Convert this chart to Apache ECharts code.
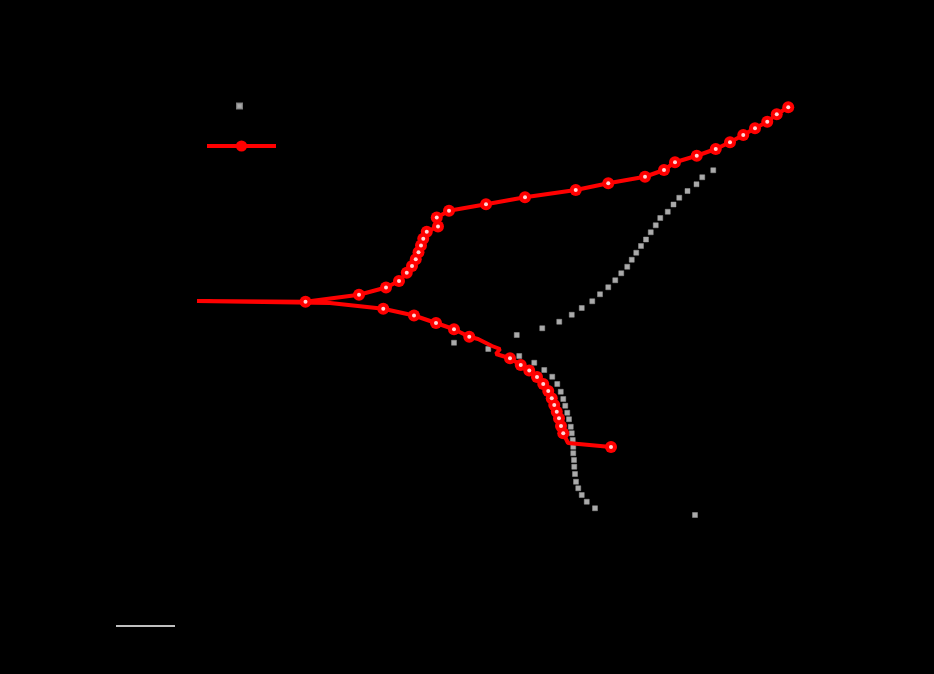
<!DOCTYPE html>
<html>
<head>
<meta charset="utf-8">
<script src="https://cdn.jsdelivr.net/npm/echarts@6/dist/echarts.min.js"></script>
<style>html,body{margin:0;padding:0;background:#000;}#c{width:934px;height:674px;}</style>
</head>
<body>
<div id="c"></div>
<script>
// Experimental (gray scatter): log i vs E
const grayX = [-4.040,-4.106,-4.146,-4.174,-4.192,-4.200,-4.206,-4.208,-4.214,-4.214,-4.218,-4.226,-4.234,-4.248,-4.262,-4.278,-4.294,-4.314,-4.342,-4.382,-4.446,-4.526,-4.646,-4.894,-5.168,
  -4.666,-4.462,-4.326,-4.226,-4.146,-4.062,-4.000,-3.934,-3.878,-3.830,-3.782,-3.746,-3.710,-3.672,-3.632,-3.594,-3.554,-3.518,-3.458,-3.412,-3.366,-3.300,-3.228,-3.182,-3.094,
  -3.240];
const grayY = [-1.333,-1.307,-1.280,-1.253,-1.227,-1.196,-1.167,-1.140,-1.113,-1.087,-1.060,-1.033,-1.007,-0.977,-0.951,-0.923,-0.896,-0.867,-0.836,-0.807,-0.780,-0.751,-0.724,-0.696,-0.671,
  -0.640,-0.613,-0.587,-0.559,-0.532,-0.505,-0.477,-0.449,-0.421,-0.393,-0.367,-0.339,-0.311,-0.284,-0.258,-0.229,-0.201,-0.172,-0.147,-0.118,-0.091,-0.064,-0.037,-0.009,0.019,
  -1.360];
// Fit (red line)
const redX = [-3.912,-4.256,-4.294,-4.312,-4.328,-4.346,-4.366,-4.386,-4.414,-4.454,-4.504,-4.566,-4.634,-4.720,-4.832,-4.800,-4.864,-4.976,-5.046,-5.168,-5.312,-5.488,-5.734,-6.160,-7.224,
  -6.356,-5.928,-5.712,-5.608,-5.546,-5.504,-5.474,-5.452,-5.432,-5.414,-5.386,-5.296,-5.306,-5.208,-4.912,-4.600,-4.194,-3.934,-3.640,-3.488,-3.400,-3.226,-3.074,-2.960,-2.854,-2.760,-2.662,-2.586,-2.494];
const redY = [-1.088,-1.072,-1.033,-1.004,-0.973,-0.947,-0.920,-0.893,-0.864,-0.836,-0.808,-0.782,-0.760,-0.733,-0.716,-0.696,-0.684,-0.656,-0.647,-0.617,-0.592,-0.562,-0.535,-0.512,-0.504,
  -0.507,-0.479,-0.450,-0.424,-0.391,-0.364,-0.337,-0.309,-0.282,-0.255,-0.227,-0.206,-0.170,-0.143,-0.117,-0.089,-0.060,-0.033,-0.007,0.020,0.051,0.077,0.104,0.131,0.160,0.187,0.213,0.243,0.271];
const redUnmarked = [1, 14, 15, 16, 17, 23, 24];

const xTicks = {min: -8, max: -2, interval: 1};
const yTicks = {min: -1.5, max: 0.5, interval: 0.5};

const grayData = grayX.map((x, i) => [x, grayY[i]]);
const redData = redX.map((x, i) => [x, redY[i]]);
const redMarked = redData.filter((p, i) => redUnmarked.indexOf(i) < 0);

const chart = echarts.init(document.getElementById('c'), null, {renderer: 'canvas'});
chart.setOption({
  backgroundColor: '#000',
  animation: false,
  grid: {left: 100, right: 84, top: 50, bottom: 124},
  xAxis: {type: 'value', min: xTicks.min, max: xTicks.max, interval: xTicks.interval,
    name: 'log i (A/cm²)', nameLocation: 'middle', nameGap: 30,
    nameTextStyle: {color: '#000', fontSize: 14},
    axisLine: {lineStyle: {color: '#000'}}, axisTick: {lineStyle: {color: '#000'}},
    axisLabel: {color: '#000'}, splitLine: {show: false}},
  yAxis: {type: 'value', min: yTicks.min, max: yTicks.max, interval: yTicks.interval,
    name: 'E (V)', nameLocation: 'middle', nameGap: 40,
    nameTextStyle: {color: '#000', fontSize: 14},
    axisLine: {show: true, lineStyle: {color: '#000'}}, axisTick: {show: true, lineStyle: {color: '#000'}},
    axisLabel: {color: '#000'}, splitLine: {show: false}},
  legend: [
    {data: ['Experimental'], orient: 'vertical', left: 231, top: 95, itemWidth: 5, itemHeight: 5,
      textStyle: {color: '#000'}},
    {data: ['Fit'], orient: 'vertical', left: 200, top: 135, itemWidth: 69, itemHeight: 14,
      lineStyle: {width: 4, color: '#ff0000'},
      textStyle: {color: '#000'}}
  ],
  graphic: [{type: 'line', shape: {x1: 116, y1: 626, x2: 175, y2: 626}, style: {stroke: '#fff', lineWidth: 1.3}}],
  series: [
    {name: 'Experimental', type: 'scatter', data: grayData, symbol: 'rect', symbolSize: 5,
      itemStyle: {color: '#d4d4d4', borderColor: '#9a9a9a', borderWidth: 0.6}, z: 2},
    {name: 'Fit', type: 'line', data: redData, symbol: 'circle', symbolSize: 12, showSymbol: false,
      lineStyle: {color: '#ff0000', width: 4}, itemStyle: {color: '#ff0000'}, z: 3},
    {name: 'FitMarkers', type: 'scatter', data: redMarked, symbol: 'circle', symbolSize: 12, silent: true,
      itemStyle: {color: '#ff0000', opacity: 1}, z: 4},
    {name: 'FitCenter', type: 'scatter', data: redMarked, symbol: 'circle', symbolSize: 4, silent: true,
      itemStyle: {color: '#ffd8d8', opacity: 1}, z: 5}
  ]
});
</script>
</body>
</html>
